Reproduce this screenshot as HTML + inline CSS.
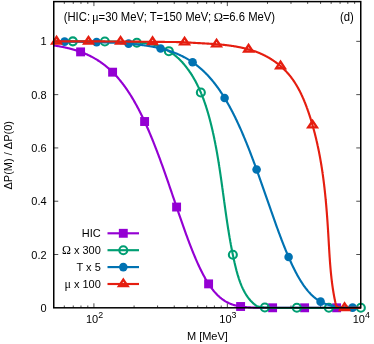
<!DOCTYPE html>
<html><head><meta charset="utf-8"><title>chart</title>
<style>html,body{margin:0;padding:0;background:#fff}svg{display:block;will-change:transform}.t{font-family:"Liberation Sans",sans-serif;font-size:11px;fill:#000}.s{font-family:"Liberation Serif",serif}</style></head>
<body>
<svg width="374" height="344" viewBox="0 0 374 344">
<rect width="374" height="344" fill="#fff"/>
<path d="M64.31,307.80v-2.3M64.31,1.60v2.3M73.25,307.80v-2.3M73.25,1.60v2.3M80.98,307.80v-2.3M80.98,1.60v2.3M87.81,307.80v-2.3M87.81,1.60v2.3M93.91,307.80v-4.5M93.91,1.60v4.5M134.08,307.80v-2.3M134.08,1.60v2.3M157.57,307.80v-2.3M157.57,1.60v2.3M174.24,307.80v-2.3M174.24,1.60v2.3M187.17,307.80v-2.3M187.17,1.60v2.3M197.73,307.80v-2.3M197.73,1.60v2.3M206.66,307.80v-2.3M206.66,1.60v2.3M214.40,307.80v-2.3M214.40,1.60v2.3M221.23,307.80v-2.3M221.23,1.60v2.3M227.33,307.80v-4.5M227.33,1.60v4.5M267.49,307.80v-2.3M267.49,1.60v2.3M290.99,307.80v-2.3M290.99,1.60v2.3M307.66,307.80v-2.3M307.66,1.60v2.3M320.59,307.80v-2.3M320.59,1.60v2.3M331.15,307.80v-2.3M331.15,1.60v2.3M340.08,307.80v-2.3M340.08,1.60v2.3M347.82,307.80v-2.3M347.82,1.60v2.3M354.65,307.80v-2.3M354.65,1.60v2.3M53.75,254.51h4.5M360.75,254.51h-4.5M53.75,201.22h4.5M360.75,201.22h-4.5M53.75,147.93h4.5M360.75,147.93h-4.5M53.75,94.64h4.5M360.75,94.64h-4.5M53.75,41.35h4.5M360.75,41.35h-4.5" stroke="#000" stroke-width="0.7" fill="none"/>
<path d="M53.75,45.47 L54.19,45.53 L54.63,45.60 L55.07,45.67 L55.51,45.73 L55.95,45.80 L56.39,45.87 L56.82,45.94 L57.26,46.01 L57.70,46.09 L58.14,46.16 L58.58,46.24 L59.02,46.31 L59.46,46.39 L59.90,46.47 L60.34,46.55 L60.78,46.63 L61.22,46.71 L61.66,46.79 L62.09,46.88 L62.53,46.96 L62.97,47.05 L63.41,47.14 L63.85,47.23 L64.29,47.32 L64.73,47.41 L65.17,47.51 L65.61,47.60 L66.05,47.70 L66.49,47.80 L66.93,47.90 L67.37,48.00 L67.80,48.10 L68.24,48.21 L68.68,48.32 L69.12,48.42 L69.56,48.53 L70.00,48.64 L70.44,48.76 L70.88,48.87 L71.32,48.99 L71.76,49.11 L72.20,49.23 L72.64,49.35 L73.07,49.47 L73.51,49.60 L73.95,49.72 L74.39,49.85 L74.83,49.98 L75.27,50.12 L75.71,50.25 L76.15,50.39 L76.59,50.53 L77.03,50.67 L77.47,50.81 L77.91,50.96 L78.35,51.10 L78.78,51.25 L79.22,51.40 L79.66,51.56 L80.10,51.71 L80.54,51.87 L80.98,52.03 L81.42,52.20 L81.86,52.36 L82.30,52.53 L82.74,52.70 L83.18,52.87 L83.62,53.05 L84.05,53.23 L84.49,53.41 L84.93,53.59 L85.37,53.78 L85.81,53.97 L86.25,54.16 L86.69,54.35 L87.13,54.55 L87.57,54.75 L88.01,54.95 L88.45,55.16 L88.89,55.36 L89.33,55.58 L89.76,55.79 L90.20,56.01 L90.64,56.23 L91.08,56.45 L91.52,56.68 L91.96,56.91 L92.40,57.14 L92.84,57.38 L93.28,57.62 L93.72,57.86 L94.16,58.11 L94.60,58.36 L95.03,58.62 L95.47,58.87 L95.91,59.13 L96.35,59.40 L96.79,59.67 L97.23,59.94 L97.67,60.22 L98.11,60.50 L98.55,60.78 L98.99,61.07 L99.43,61.36 L99.87,61.65 L100.31,61.95 L100.74,62.26 L101.18,62.56 L101.62,62.88 L102.06,63.19 L102.50,63.51 L102.94,63.84 L103.38,64.17 L103.82,64.50 L104.26,64.84 L104.70,65.18 L105.14,65.53 L105.58,65.88 L106.01,66.24 L106.45,66.60 L106.89,66.96 L107.33,67.33 L107.77,67.71 L108.21,68.09 L108.65,68.48 L109.09,68.87 L109.53,69.26 L109.97,69.66 L110.41,70.07 L110.85,70.48 L111.29,70.90 L111.72,71.32 L112.16,71.75 L112.60,72.18 L113.04,72.62 L113.48,73.06 L113.92,73.51 L114.36,73.96 L114.80,74.42 L115.24,74.89 L115.68,75.36 L116.12,75.84 L116.56,76.32 L116.99,76.81 L117.43,77.31 L117.87,77.81 L118.31,78.32 L118.75,78.83 L119.19,79.36 L119.63,79.88 L120.07,80.41 L120.51,80.95 L120.95,81.50 L121.39,82.05 L121.83,82.61 L122.27,83.18 L122.70,83.75 L123.14,84.33 L123.58,84.91 L124.02,85.50 L124.46,86.10 L124.90,86.71 L125.34,87.32 L125.78,87.94 L126.22,88.57 L126.66,89.20 L127.10,89.84 L127.54,90.49 L127.97,91.15 L128.41,91.81 L128.85,92.48 L129.29,93.15 L129.73,93.84 L130.17,94.53 L130.61,95.23 L131.05,95.93 L131.49,96.65 L131.93,97.37 L132.37,98.10 L132.81,98.83 L133.24,99.58 L133.68,100.33 L134.12,101.09 L134.56,101.85 L135.00,102.63 L135.44,103.41 L135.88,104.20 L136.32,105.00 L136.76,105.80 L137.20,106.62 L137.64,107.44 L138.08,108.27 L138.52,109.10 L138.95,109.95 L139.39,110.80 L139.83,111.66 L140.27,112.53 L140.71,113.41 L141.15,114.29 L141.59,115.18 L142.03,116.08 L142.47,116.99 L142.91,117.90 L143.35,118.83 L143.79,119.76 L144.22,120.70 L144.66,121.64 L145.10,122.60 L145.54,123.56 L145.98,124.53 L146.42,125.51 L146.86,126.50 L147.30,127.49 L147.74,128.49 L148.18,129.50 L148.62,130.52 L149.06,131.54 L149.50,132.57 L149.93,133.61 L150.37,134.66 L150.81,135.71 L151.25,136.77 L151.69,137.84 L152.13,138.92 L152.57,140.00 L153.01,141.09 L153.45,142.19 L153.89,143.29 L154.33,144.40 L154.77,145.52 L155.20,146.65 L155.64,147.78 L156.08,148.91 L156.52,150.06 L156.96,151.21 L157.40,152.36 L157.84,153.53 L158.28,154.70 L158.72,155.87 L159.16,157.05 L159.60,158.24 L160.04,159.43 L160.48,160.63 L160.91,161.83 L161.35,163.04 L161.79,164.25 L162.23,165.47 L162.67,166.69 L163.11,167.92 L163.55,169.15 L163.99,170.39 L164.43,171.63 L164.87,172.88 L165.31,174.13 L165.75,175.38 L166.18,176.64 L166.62,177.90 L167.06,179.16 L167.50,180.43 L167.94,181.70 L168.38,182.97 L168.82,184.24 L169.26,185.52 L169.70,186.80 L170.14,188.08 L170.58,189.37 L171.02,190.65 L171.46,191.94 L171.89,193.23 L172.33,194.52 L172.77,195.81 L173.21,197.10 L173.65,198.39 L174.09,199.68 L174.53,200.97 L174.97,202.26 L175.41,203.55 L175.85,204.84 L176.29,206.13 L176.73,207.42 L177.16,208.71 L177.60,209.99 L178.04,211.27 L178.48,212.56 L178.92,213.84 L179.36,215.11 L179.80,216.39 L180.24,217.66 L180.68,218.93 L181.12,220.19 L181.56,221.45 L182.00,222.71 L182.44,223.96 L182.87,225.21 L183.31,226.46 L183.75,227.70 L184.19,228.93 L184.63,230.16 L185.07,231.38 L185.51,232.60 L185.95,233.82 L186.39,235.02 L186.83,236.22 L187.27,237.42 L187.71,238.60 L188.14,239.78 L188.58,240.96 L189.02,242.12 L189.46,243.28 L189.90,244.43 L190.34,245.57 L190.78,246.70 L191.22,247.83 L191.66,248.95 L192.10,250.05 L192.54,251.15 L192.98,252.24 L193.42,253.32 L193.85,254.39 L194.29,255.45 L194.73,256.50 L195.17,257.54 L195.61,258.57 L196.05,259.60 L196.49,260.60 L196.93,261.60 L197.37,262.59 L197.81,263.57 L198.25,264.54 L198.69,265.49 L199.12,266.43 L199.56,267.37 L200.00,268.29 L200.44,269.20 L200.88,270.09 L201.32,270.98 L201.76,271.85 L202.20,272.71 L202.64,273.56 L203.08,274.40 L203.52,275.23 L203.96,276.04 L204.40,276.84 L204.83,277.63 L205.27,278.41 L205.71,279.17 L206.15,279.92 L206.59,280.66 L207.03,281.39 L207.47,282.10 L207.91,282.80 L208.35,283.49 L208.79,284.17 L209.23,284.83 L209.67,285.48 L210.10,286.12 L210.54,286.75 L210.98,287.36 L211.42,287.97 L211.86,288.56 L212.30,289.13 L212.74,289.70 L213.18,290.25 L213.62,290.80 L214.06,291.33 L214.50,291.85 L214.94,292.35 L215.38,292.85 L215.81,293.33 L216.25,293.81 L216.69,294.27 L217.13,294.72 L217.57,295.16 L218.01,295.59 L218.45,296.00 L218.89,296.41 L219.33,296.81 L219.77,297.19 L220.21,297.57 L220.65,297.94 L221.08,298.29 L221.52,298.64 L221.96,298.97 L222.40,299.30 L222.84,299.62 L223.28,299.93 L223.72,300.23 L224.16,300.52 L224.60,300.80 L225.04,301.07 L225.48,301.34 L225.92,301.59 L226.36,301.84 L226.79,302.08 L227.23,302.31 L227.67,302.54 L228.11,302.76 L228.55,302.97 L228.99,303.17 L229.43,303.37 L229.87,303.55 L230.31,303.74 L230.75,303.91 L231.19,304.08 L231.63,304.25 L232.06,304.41 L232.50,304.56 L232.94,304.70 L233.38,304.85 L233.82,304.98 L234.26,305.11 L234.70,305.24 L235.14,305.36 L235.58,305.47 L236.02,305.58 L236.46,305.69 L236.90,305.79 L237.34,305.89 L237.77,305.98 L238.21,306.07 L238.65,306.16 L239.09,306.24 L239.53,306.32 L239.97,306.40 L240.41,306.47 L240.85,306.54 L241.29,306.60 L241.73,306.67 L242.17,306.73 L242.61,306.78 L243.04,306.84 L243.48,306.89 L243.92,306.94 L244.36,306.99 L244.80,307.03 L245.24,307.07 L245.68,307.11 L246.12,307.15 L246.56,307.19 L247.00,307.22 L247.44,307.26 L247.88,307.29 L248.32,307.32 L248.75,307.35 L249.19,307.37 L249.63,307.40 L250.07,307.42 L250.51,307.44 L250.95,307.47 L251.39,307.49 L251.83,307.51 L252.27,307.52 L252.71,307.54 L253.15,307.56 L253.59,307.57 L254.02,307.59 L254.46,307.60 L254.90,307.61 L255.34,307.62 L255.78,307.64 L256.22,307.65 L256.66,307.66 L257.10,307.67 L257.54,307.67 L257.98,307.68 L258.42,307.69 L258.86,307.70 L259.30,307.70 L259.73,307.71 L260.17,307.72 L260.61,307.72 L261.05,307.73 L261.49,307.73 L261.93,307.74 L262.37,307.74 L262.81,307.75 L263.25,307.75 L263.69,307.75 L264.13,307.76 L264.57,307.76 L265.00,307.76 L265.44,307.77 L265.88,307.77 L266.32,307.77 L266.76,307.77 L267.20,307.77 L267.64,307.78 L268.08,307.78 L268.52,307.78 L268.96,307.78 L269.40,307.78 L269.84,307.78 L270.28,307.79 L270.71,307.79 L271.15,307.79 L271.59,307.79 L272.03,307.79 L272.47,307.79 L272.91,307.79 L273.35,307.79 L273.79,307.79 L274.23,307.79 L274.67,307.79 L275.11,307.79 L275.55,307.79 L275.98,307.79 L276.42,307.80 L276.86,307.80 L277.30,307.80 L277.74,307.80 L278.18,307.80 L278.62,307.80 L279.06,307.80 L279.50,307.80 L279.94,307.80 L280.38,307.80 L280.82,307.80 L281.26,307.80 L281.69,307.80 L282.13,307.80 L282.57,307.80 L283.01,307.80 L283.45,307.80 L283.89,307.80 L284.33,307.80 L284.77,307.80 L285.21,307.80 L285.65,307.80 L286.09,307.80 L286.53,307.80 L286.96,307.80 L287.40,307.80 L287.84,307.80 L288.28,307.80 L288.72,307.80 L289.16,307.80 L289.60,307.80 L290.04,307.80 L290.48,307.80 L290.92,307.80 L291.36,307.80 L291.80,307.80 L292.23,307.80 L292.67,307.80 L293.11,307.80 L293.55,307.80 L293.99,307.80 L294.43,307.80 L294.87,307.80 L295.31,307.80 L295.75,307.80 L296.19,307.80 L296.63,307.80 L297.07,307.80 L297.51,307.80 L297.94,307.80 L298.38,307.80 L298.82,307.80 L299.26,307.80 L299.70,307.80 L300.14,307.80 L300.58,307.80 L301.02,307.80 L301.46,307.80 L301.90,307.80 L302.34,307.80 L302.78,307.80 L303.21,307.80 L303.65,307.80 L304.09,307.80 L304.53,307.80 L304.97,307.80 L305.41,307.80 L305.85,307.80 L306.29,307.80 L306.73,307.80 L307.17,307.80 L307.61,307.80 L308.05,307.80 L308.49,307.80 L308.92,307.80 L309.36,307.80 L309.80,307.80 L310.24,307.80 L310.68,307.80 L311.12,307.80 L311.56,307.80 L312.00,307.80 L312.44,307.80 L312.88,307.80 L313.32,307.80 L313.76,307.80 L314.19,307.80 L314.63,307.80 L315.07,307.80 L315.51,307.80 L315.95,307.80 L316.39,307.80 L316.83,307.80 L317.27,307.80 L317.71,307.80 L318.15,307.80 L318.59,307.80 L319.03,307.80 L319.47,307.80 L319.90,307.80 L320.34,307.80 L320.78,307.80 L321.22,307.80 L321.66,307.80 L322.10,307.80 L322.54,307.80 L322.98,307.80 L323.42,307.80 L323.86,307.80 L324.30,307.80 L324.74,307.80 L325.17,307.80 L325.61,307.80 L326.05,307.80 L326.49,307.80 L326.93,307.80 L327.37,307.80 L327.81,307.80 L328.25,307.80 L328.69,307.80 L329.13,307.80 L329.57,307.80 L330.01,307.80 L330.45,307.80 L330.88,307.80 L331.32,307.80 L331.76,307.80 L332.20,307.80 L332.64,307.80 L333.08,307.80 L333.52,307.80 L333.96,307.80 L334.40,307.80 L334.84,307.80 L335.28,307.80 L335.72,307.80 L336.15,307.80 L336.59,307.80 L337.03,307.80 L337.47,307.80 L337.91,307.80 L338.35,307.80 L338.79,307.80 L339.23,307.80 L339.67,307.80 L340.11,307.80 L340.55,307.80 L340.99,307.80 L341.43,307.80 L341.86,307.80 L342.30,307.80 L342.74,307.80 L343.18,307.80 L343.62,307.80 L344.06,307.80 L344.50,307.80 L344.94,307.80 L345.38,307.80 L345.82,307.80 L346.26,307.80 L346.70,307.80 L347.13,307.80 L347.57,307.80 L348.01,307.80 L348.45,307.80 L348.89,307.80 L349.33,307.80 L349.77,307.80 L350.21,307.80 L350.65,307.80 L351.09,307.80 L351.53,307.80 L351.97,307.80 L352.41,307.80 L352.84,307.80 L353.28,307.80 L353.72,307.80 L354.16,307.80 L354.60,307.80 L355.04,307.80 L355.48,307.80 L355.92,307.80 L356.36,307.80 L356.80,307.80 L357.24,307.80 L357.68,307.80 L358.11,307.80 L358.55,307.80 L358.99,307.80 L359.43,307.80 L359.87,307.80 L360.31,307.80 L360.75,307.80" fill="none" stroke="#9400d3" stroke-width="2.15" stroke-linejoin="round"/>
<rect x="76.15" y="47.44" width="8.9" height="8.9" fill="#9400d3"/>
<rect x="108.15" y="67.73" width="8.9" height="8.9" fill="#9400d3"/>
<rect x="140.15" y="117.06" width="8.9" height="8.9" fill="#9400d3"/>
<rect x="172.15" y="202.60" width="8.9" height="8.9" fill="#9400d3"/>
<rect x="204.15" y="279.43" width="8.9" height="8.9" fill="#9400d3"/>
<rect x="236.15" y="302.05" width="8.9" height="8.9" fill="#9400d3"/>
<rect x="268.15" y="303.34" width="8.9" height="8.9" fill="#9400d3"/>
<rect x="300.15" y="303.35" width="8.9" height="8.9" fill="#9400d3"/>
<rect x="332.15" y="303.35" width="8.9" height="8.9" fill="#9400d3"/>
<path d="M53.75,41.35 L54.37,41.35 L54.98,41.35 L55.60,41.35 L56.21,41.35 L56.83,41.35 L57.44,41.35 L58.06,41.35 L58.67,41.35 L59.29,41.35 L59.90,41.35 L60.52,41.35 L61.13,41.35 L61.75,41.35 L62.36,41.35 L62.98,41.36 L63.59,41.36 L64.21,41.36 L64.82,41.36 L65.44,41.36 L66.05,41.36 L66.67,41.36 L67.29,41.36 L67.90,41.36 L68.52,41.36 L69.13,41.36 L69.75,41.37 L70.36,41.37 L70.98,41.37 L71.59,41.37 L72.21,41.37 L72.82,41.37 L73.44,41.37 L74.05,41.37 L74.67,41.38 L75.28,41.38 L75.90,41.38 L76.51,41.38 L77.13,41.38 L77.74,41.38 L78.36,41.39 L78.97,41.39 L79.59,41.39 L80.20,41.39 L80.82,41.39 L81.44,41.40 L82.05,41.40 L82.67,41.40 L83.28,41.40 L83.90,41.40 L84.51,41.41 L85.13,41.41 L85.74,41.41 L86.36,41.41 L86.97,41.41 L87.59,41.42 L88.20,41.42 L88.82,41.42 L89.43,41.42 L90.05,41.43 L90.66,41.43 L91.28,41.43 L91.89,41.43 L92.51,41.44 L93.12,41.44 L93.74,41.44 L94.36,41.44 L94.97,41.45 L95.59,41.45 L96.20,41.45 L96.82,41.45 L97.43,41.46 L98.05,41.46 L98.66,41.46 L99.28,41.47 L99.89,41.47 L100.00,41.47 L100.51,41.47 L101.12,41.48 L101.74,41.48 L102.35,41.48 L102.97,41.49 L103.58,41.49 L104.20,41.50 L104.81,41.51 L105.43,41.51 L106.04,41.52 L106.66,41.53 L107.28,41.53 L107.89,41.54 L108.51,41.55 L109.12,41.56 L109.74,41.57 L110.35,41.58 L110.97,41.59 L111.58,41.60 L112.20,41.61 L112.81,41.62 L113.43,41.63 L114.04,41.64 L114.66,41.65 L115.27,41.67 L115.89,41.68 L116.50,41.69 L117.12,41.70 L117.73,41.72 L118.35,41.73 L118.96,41.75 L119.58,41.76 L120.00,41.77 L120.19,41.77 L120.81,41.79 L121.43,41.82 L122.04,41.85 L122.66,41.88 L123.27,41.91 L123.89,41.95 L124.50,41.99 L125.12,42.04 L125.73,42.08 L126.35,42.13 L126.96,42.18 L127.58,42.23 L128.19,42.28 L128.81,42.32 L129.42,42.37 L130.04,42.42 L130.65,42.46 L131.27,42.51 L131.88,42.55 L132.50,42.58 L133.11,42.62 L133.73,42.65 L134.35,42.67 L134.96,42.69 L135.58,42.71 L136.19,42.72 L136.81,42.72 L136.93,42.72 L137.42,42.72 L137.57,42.72 L138.04,42.72 L138.20,42.72 L138.65,42.72 L138.84,42.72 L139.27,42.72 L139.48,42.72 L139.88,42.73 L140.11,42.73 L140.50,42.74 L140.75,42.75 L141.11,42.76 L141.38,42.78 L141.73,42.80 L142.01,42.81 L142.34,42.83 L142.64,42.85 L142.96,42.88 L143.27,42.90 L143.57,42.93 L143.90,42.96 L144.19,42.98 L144.53,43.02 L144.80,43.05 L145.15,43.09 L145.42,43.12 L145.78,43.16 L146.03,43.20 L146.40,43.24 L146.65,43.28 L147.02,43.33 L147.27,43.37 L147.64,43.43 L147.88,43.47 L148.26,43.53 L148.50,43.57 L148.87,43.64 L149.11,43.68 L149.49,43.75 L149.73,43.80 L150.10,43.87 L150.34,43.92 L150.71,44.00 L150.96,44.05 L151.32,44.13 L151.57,44.19 L151.92,44.27 L152.19,44.33 L152.53,44.42 L152.80,44.48 L153.13,44.57 L153.42,44.64 L153.73,44.73 L154.03,44.81 L154.33,44.89 L154.65,44.98 L154.93,45.06 L155.26,45.16 L155.52,45.24 L155.88,45.35 L156.11,45.42 L156.49,45.54 L156.70,45.61 L157.11,45.75 L157.29,45.81 L157.72,45.96 L157.87,46.01 L158.34,46.17 L158.46,46.22 L158.95,46.40 L159.04,46.43 L159.57,46.63 L159.61,46.65 L160.18,46.87 L160.19,46.88 L160.76,47.11 L160.80,47.12 L161.33,47.34 L161.42,47.38 L161.90,47.59 L162.03,47.65 L162.46,47.84 L162.65,47.92 L163.02,48.09 L163.26,48.20 L163.58,48.35 L163.88,48.49 L164.14,48.62 L164.49,48.79 L164.69,48.89 L165.11,49.10 L165.24,49.17 L165.72,49.42 L165.79,49.45 L166.33,49.74 L166.34,49.75 L166.87,50.04 L166.95,50.08 L167.41,50.34 L167.57,50.43 L167.94,50.64 L168.18,50.78 L168.47,50.96 L168.80,51.15 L169.00,51.27 L169.41,51.53 L169.53,51.60 L170.03,51.91 L170.05,51.92 L170.56,52.26 L170.64,52.31 L171.08,52.60 L171.26,52.72 L171.59,52.94 L171.87,53.14 L172.10,53.29 L172.49,53.57 L172.60,53.65 L173.10,54.01 L173.10,54.01 L173.60,54.37 L173.72,54.46 L174.09,54.74 L174.34,54.93 L174.58,55.12 L174.95,55.41 L175.06,55.50 L175.54,55.89 L175.57,55.91 L176.02,56.28 L176.18,56.41 L176.49,56.68 L176.80,56.93 L176.96,57.08 L177.41,57.47 L177.43,57.49 L177.89,57.90 L178.03,58.02 L178.35,58.31 L178.64,58.59 L178.80,58.74 L179.25,59.16 L179.26,59.17 L179.69,59.60 L179.87,59.77 L180.13,60.03 L180.49,60.39 L180.57,60.47 L181.00,60.92 L181.10,61.02 L181.43,61.37 L181.72,61.67 L181.86,61.82 L182.28,62.28 L182.33,62.34 L182.69,62.74 L182.95,63.03 L183.10,63.21 L183.51,63.68 L183.56,63.73 L183.92,64.15 L184.18,64.46 L184.32,64.62 L184.72,65.10 L184.79,65.20 L185.11,65.59 L185.41,65.96 L185.50,66.07 L185.89,66.56 L186.02,66.73 L186.27,67.05 L186.64,67.53 L186.65,67.54 L187.03,68.04 L187.26,68.34 L187.40,68.54 L187.77,69.04 L187.87,69.18 L188.13,69.54 L188.49,70.03 L188.49,70.04 L188.85,70.55 L189.10,70.90 L189.21,71.06 L189.56,71.57 L189.72,71.80 L189.91,72.08 L190.25,72.59 L190.33,72.71 L190.60,73.11 L190.93,73.63 L190.95,73.65 L191.27,74.15 L191.56,74.60 L191.60,74.67 L191.93,75.19 L192.18,75.59 L192.26,75.72 L192.58,76.25 L192.79,76.59 L192.90,76.77 L193.22,77.30 L193.41,77.62 L193.53,77.84 L193.84,78.37 L194.02,78.68 L194.15,78.91 L194.46,79.44 L194.64,79.76 L194.76,79.98 L195.06,80.52 L195.25,80.88 L195.36,81.06 L195.65,81.61 L195.87,82.02 L195.94,82.15 L196.23,82.70 L196.48,83.19 L196.51,83.25 L196.79,83.80 L197.07,84.35 L197.10,84.40 L197.35,84.90 L197.63,85.45 L197.71,85.64 L197.90,86.01 L198.17,86.57 L198.33,86.91 L198.43,87.13 L198.70,87.68 L198.94,88.22 L198.96,88.25 L199.22,88.81 L199.47,89.37 L199.56,89.57 L199.72,89.94 L199.98,90.50 L200.17,90.96 L200.22,91.07 L200.47,91.64 L200.71,92.21 L200.79,92.39 L200.96,92.78 L201.19,93.35 L201.41,93.86 L201.43,93.92 L201.67,94.50 L201.90,95.07 L202.02,95.38 L202.13,95.65 L202.36,96.22 L202.58,96.80 L202.64,96.94 L202.80,97.38 L203.03,97.96 L203.25,98.54 L203.25,98.56 L203.46,99.13 L203.68,99.71 L203.87,100.23 L203.89,100.29 L204.10,100.88 L204.31,101.46 L204.48,101.95 L204.52,102.05 L204.72,102.64 L204.92,103.23 L205.10,103.73 L205.13,103.81 L205.32,104.40 L205.52,104.99 L205.71,105.57 L205.72,105.59 L205.91,106.18 L206.10,106.77 L206.29,107.36 L206.33,107.47 L206.48,107.96 L206.67,108.55 L206.85,109.15 L206.94,109.44 L207.04,109.74 L207.22,110.34 L207.40,110.94 L207.56,111.47 L207.58,111.53 L207.75,112.13 L207.93,112.73 L208.10,113.33 L208.17,113.57 L208.27,113.93 L208.45,114.53 L208.61,115.13 L208.78,115.73 L208.79,115.75 L208.95,116.33 L209.11,116.93 L209.28,117.53 L209.40,117.99 L209.44,118.13 L209.60,118.73 L209.76,119.34 L209.92,119.94 L210.02,120.31 L210.08,120.54 L210.23,121.14 L210.39,121.75 L210.54,122.35 L210.63,122.70 L210.70,122.95 L210.85,123.56 L211.00,124.16 L211.15,124.76 L211.25,125.17 L211.30,125.37 L211.44,125.97 L211.59,126.58 L211.74,127.18 L211.86,127.72 L211.88,127.78 L212.02,128.39 L212.16,128.99 L212.30,129.60 L212.44,130.20 L212.48,130.36 L212.58,130.81 L212.72,131.41 L212.86,132.02 L212.99,132.63 L213.09,133.08 L213.13,133.23 L213.26,133.84 L213.39,134.44 L213.53,135.05 L213.66,135.66 L213.71,135.90 L213.79,136.26 L213.92,136.87 L214.04,137.48 L214.17,138.08 L214.30,138.69 L214.33,138.82 L214.42,139.30 L214.55,139.91 L214.67,140.51 L214.79,141.12 L214.92,141.73 L214.94,141.85 L215.04,142.34 L215.16,142.94 L215.28,143.55 L215.40,144.16 L215.51,144.77 L215.56,144.99 L215.63,145.38 L215.75,145.99 L215.86,146.59 L215.98,147.20 L216.09,147.81 L216.17,148.25 L216.20,148.42 L216.32,149.03 L216.43,149.64 L216.54,150.25 L216.65,150.86 L216.76,151.47 L216.79,151.63 L216.87,152.08 L216.97,152.69 L217.08,153.30 L217.19,153.91 L217.29,154.52 L217.40,155.13 L217.40,155.14 L217.50,155.74 L217.61,156.35 L217.71,156.96 L217.82,157.57 L217.92,158.18 L218.02,158.77 L218.02,158.79 L218.12,159.40 L218.22,160.01 L218.32,160.62 L218.42,161.23 L218.52,161.84 L218.62,162.46 L218.63,162.54 L218.72,163.07 L218.81,163.68 L218.91,164.29 L219.01,164.90 L219.10,165.51 L219.20,166.13 L219.25,166.44 L219.29,166.74 L219.39,167.35 L219.48,167.96 L219.57,168.57 L219.67,169.18 L219.76,169.80 L219.85,170.41 L219.86,170.47 L219.94,171.02 L220.04,171.63 L220.13,172.25 L220.22,172.86 L220.31,173.47 L220.40,174.08 L220.48,174.62 L220.49,174.70 L220.58,175.31 L220.67,175.92 L220.76,176.54 L220.84,177.15 L220.93,177.76 L221.02,178.37 L221.09,178.88 L221.11,178.99 L221.19,179.60 L221.28,180.21 L221.37,180.83 L221.46,181.44 L221.54,182.05 L221.63,182.67 L221.71,183.24 L221.71,183.28 L221.80,183.89 L221.88,184.51 L221.97,185.12 L222.06,185.73 L222.14,186.35 L222.23,186.96 L222.31,187.58 L222.32,187.67 L222.39,188.19 L222.48,188.80 L222.56,189.42 L222.65,190.03 L222.73,190.64 L222.82,191.26 L222.90,191.87 L222.94,192.16 L222.98,192.49 L223.07,193.10 L223.15,193.71 L223.23,194.33 L223.32,194.94 L223.40,195.56 L223.49,196.17 L223.55,196.67 L223.57,196.78 L223.65,197.40 L223.74,198.01 L223.82,198.63 L223.90,199.24 L223.99,199.85 L224.07,200.47 L224.16,201.08 L224.17,201.18 L224.24,201.70 L224.32,202.31 L224.41,202.93 L224.49,203.54 L224.58,204.15 L224.66,204.77 L224.74,205.38 L224.78,205.67 L224.83,206.00 L224.91,206.61 L225.00,207.23 L225.08,207.84 L225.17,208.45 L225.26,209.07 L225.34,209.68 L225.40,210.09 L225.43,210.30 L225.51,210.91 L225.60,211.52 L225.69,212.14 L225.77,212.75 L225.86,213.37 L225.95,213.98 L226.01,214.45 L226.04,214.59 L226.12,215.21 L226.21,215.82 L226.30,216.44 L226.39,217.05 L226.48,217.66 L226.57,218.28 L226.63,218.70 L226.66,218.89 L226.75,219.51 L226.84,220.12 L226.93,220.73 L227.02,221.35 L227.11,221.96 L227.20,222.58 L227.24,222.84 L227.30,223.19 L227.39,223.80 L227.48,224.42 L227.58,225.03 L227.67,225.64 L227.77,226.26 L227.86,226.86 L227.86,226.87 L227.96,227.48 L228.05,228.10 L228.15,228.71 L228.25,229.32 L228.34,229.94 L228.44,230.55 L228.48,230.76 L228.54,231.16 L228.64,231.78 L228.74,232.39 L228.84,233.00 L228.94,233.62 L229.04,234.23 L229.09,234.52 L229.14,234.84 L229.25,235.45 L229.35,236.07 L229.45,236.68 L229.56,237.29 L229.66,237.91 L229.71,238.15 L229.77,238.52 L229.88,239.13 L229.98,239.74 L230.09,240.36 L230.20,240.97 L230.31,241.58 L230.32,241.66 L230.42,242.19 L230.53,242.80 L230.64,243.42 L230.75,244.03 L230.86,244.64 L230.94,245.03 L230.98,245.25 L231.09,245.86 L231.21,246.47 L231.32,247.09 L231.44,247.70 L231.55,248.29 L231.56,248.31 L231.67,248.92 L231.79,249.53 L231.91,250.14 L232.03,250.75 L232.15,251.36 L232.17,251.43 L232.28,251.97 L232.40,252.59 L232.52,253.20 L232.65,253.81 L232.77,254.42 L232.78,254.46 L232.90,255.03 L233.03,255.64 L233.16,256.25 L233.29,256.86 L233.40,257.38 L233.42,257.47 L233.55,258.08 L233.68,258.69 L233.81,259.30 L233.95,259.91 L234.01,260.20 L234.08,260.52 L234.22,261.12 L234.36,261.73 L234.49,262.34 L234.63,262.93 L234.63,262.95 L234.77,263.56 L234.91,264.17 L235.06,264.78 L235.20,265.39 L235.24,265.56 L235.35,265.99 L235.49,266.60 L235.64,267.21 L235.79,267.82 L235.86,268.09 L235.94,268.42 L236.09,269.03 L236.25,269.63 L236.41,270.24 L236.47,270.49 L236.57,270.84 L236.73,271.44 L236.89,272.04 L237.06,272.65 L237.09,272.76 L237.22,273.25 L237.39,273.85 L237.57,274.44 L237.70,274.91 L237.74,275.04 L237.92,275.64 L238.10,276.23 L238.29,276.82 L238.32,276.93 L238.47,277.42 L238.66,278.01 L238.86,278.60 L238.93,278.83 L239.05,279.19 L239.25,279.77 L239.46,280.36 L239.55,280.62 L239.66,280.94 L239.87,281.52 L240.09,282.10 L240.16,282.31 L240.30,282.68 L240.52,283.26 L240.75,283.83 L240.78,283.91 L240.98,284.41 L241.21,284.98 L241.40,285.42 L241.45,285.55 L241.69,286.11 L241.94,286.68 L242.01,286.85 L242.19,287.24 L242.44,287.80 L242.63,288.20 L242.70,288.36 L242.96,288.91 L243.23,289.47 L243.24,289.49 L243.51,290.02 L243.78,290.57 L243.86,290.71 L244.07,291.11 L244.36,291.65 L244.47,291.86 L244.65,292.19 L244.95,292.73 L245.09,292.96 L245.26,293.26 L245.57,293.79 L245.70,294.00 L245.89,294.31 L246.21,294.83 L246.32,294.99 L246.55,295.35 L246.88,295.86 L246.93,295.93 L247.23,296.37 L247.55,296.82 L247.58,296.87 L247.94,297.37 L248.16,297.67 L248.30,297.86 L248.68,298.35 L248.78,298.48 L249.06,298.83 L249.39,299.25 L249.44,299.31 L249.84,299.78 L250.01,299.98 L250.24,300.25 L250.62,300.67 L250.65,300.71 L251.07,301.16 L251.24,301.34 L251.50,301.61 L251.85,301.97 L251.94,302.05 L252.38,302.49 L252.47,302.57 L252.84,302.92 L253.08,303.14 L253.30,303.34 L253.70,303.69 L253.77,303.75 L254.25,304.16 L254.32,304.21 L254.74,304.56 L254.93,304.71 L255.24,304.96 L255.55,305.19 L255.75,305.34 L256.16,305.66 L256.27,305.72 L256.78,305.95 L257.39,306.19 L258.01,306.41 L258.62,306.59 L259.24,306.74 L259.85,306.88 L260.47,306.99 L260.50,307.00 L261.08,307.10 L261.70,307.20 L262.31,307.28 L262.93,307.36 L263.54,307.43 L264.16,307.49 L264.77,307.54 L265.00,307.55 L265.39,307.57 L266.00,307.61 L266.62,307.64 L267.23,307.67 L267.85,307.70 L268.47,307.72 L269.08,307.75 L269.70,307.77 L270.31,307.78 L270.93,307.79 L271.54,307.80 L272.00,307.80 L272.16,307.80 L272.77,307.80 L273.39,307.80 L274.00,307.80 L274.62,307.80 L275.23,307.80 L275.85,307.80 L276.46,307.80 L277.08,307.80 L277.69,307.80 L278.31,307.80 L278.92,307.80 L279.54,307.80 L280.15,307.80 L280.77,307.80 L281.39,307.80 L282.00,307.80 L282.62,307.80 L283.23,307.80 L283.85,307.80 L284.46,307.80 L285.08,307.80 L285.69,307.80 L286.31,307.80 L286.92,307.80 L287.54,307.80 L288.15,307.80 L288.77,307.80 L289.38,307.80 L290.00,307.80 L290.61,307.80 L291.23,307.80 L291.84,307.80 L292.46,307.80 L293.07,307.80 L293.69,307.80 L294.31,307.80 L294.92,307.80 L295.54,307.80 L296.15,307.80 L296.77,307.80 L297.38,307.80 L298.00,307.80 L298.61,307.80 L299.23,307.80 L299.84,307.80 L300.46,307.80 L301.07,307.80 L301.69,307.80 L302.30,307.80 L302.92,307.80 L303.53,307.80 L304.15,307.80 L304.76,307.80 L305.38,307.80 L305.99,307.80 L306.61,307.80 L307.22,307.80 L307.84,307.80 L308.46,307.80 L309.07,307.80 L309.69,307.80 L310.30,307.80 L310.92,307.80 L311.53,307.80 L312.15,307.80 L312.76,307.80 L313.38,307.80 L313.99,307.80 L314.61,307.80 L315.22,307.80 L315.84,307.80 L316.45,307.80 L317.07,307.80 L317.68,307.80 L318.30,307.80 L318.91,307.80 L319.53,307.80 L320.14,307.80 L320.76,307.80 L321.38,307.80 L321.99,307.80 L322.61,307.80 L323.22,307.80 L323.84,307.80 L324.45,307.80 L325.07,307.80 L325.68,307.80 L326.30,307.80 L326.91,307.80 L327.53,307.80 L328.14,307.80 L328.76,307.80 L329.37,307.80 L329.99,307.80 L330.60,307.80 L331.22,307.80 L331.83,307.80 L332.45,307.80 L333.06,307.80 L333.68,307.80 L334.30,307.80 L334.91,307.80 L335.53,307.80 L336.14,307.80 L336.76,307.80 L337.37,307.80 L337.99,307.80 L338.60,307.80 L339.22,307.80 L339.83,307.80 L340.45,307.80 L341.06,307.80 L341.68,307.80 L342.29,307.80 L342.91,307.80 L343.52,307.80 L344.14,307.80 L344.75,307.80 L345.37,307.80 L345.98,307.80 L346.60,307.80 L347.21,307.80 L347.83,307.80 L348.45,307.80 L349.06,307.80 L349.68,307.80 L350.29,307.80 L350.91,307.80 L351.52,307.80 L352.14,307.80 L352.75,307.80 L353.37,307.80 L353.98,307.80 L354.60,307.80 L355.21,307.80 L355.83,307.80 L356.44,307.80 L357.06,307.80 L357.67,307.80 L358.29,307.80 L358.90,307.80 L359.52,307.80 L360.13,307.80 L360.75,307.80" fill="none" stroke="#009e73" stroke-width="2.15" stroke-linejoin="round"/>
<circle cx="72.85" cy="41.37" r="4.0" fill="none" stroke="#009e73" stroke-width="2.1"/>
<circle cx="104.85" cy="41.51" r="4.0" fill="none" stroke="#009e73" stroke-width="2.1"/>
<circle cx="136.85" cy="42.72" r="4.0" fill="none" stroke="#009e73" stroke-width="2.1"/>
<circle cx="168.85" cy="51.18" r="4.0" fill="none" stroke="#009e73" stroke-width="2.1"/>
<circle cx="200.85" cy="92.53" r="4.0" fill="none" stroke="#009e73" stroke-width="2.1"/>
<circle cx="232.85" cy="254.78" r="4.0" fill="none" stroke="#009e73" stroke-width="2.1"/>
<circle cx="264.85" cy="307.54" r="4.0" fill="none" stroke="#009e73" stroke-width="2.1"/>
<circle cx="296.85" cy="307.80" r="4.0" fill="none" stroke="#009e73" stroke-width="2.1"/>
<circle cx="328.85" cy="307.80" r="4.0" fill="none" stroke="#009e73" stroke-width="2.1"/>
<circle cx="360.85" cy="307.80" r="4.0" fill="none" stroke="#009e73" stroke-width="2.1"/>
<path d="M53.75,41.53 L54.19,41.53 L54.63,41.53 L55.07,41.54 L55.51,41.54 L55.95,41.54 L56.39,41.54 L56.82,41.55 L57.26,41.55 L57.70,41.55 L58.14,41.56 L58.58,41.56 L59.02,41.56 L59.46,41.56 L59.90,41.57 L60.34,41.57 L60.78,41.57 L61.22,41.58 L61.66,41.58 L62.09,41.58 L62.53,41.59 L62.97,41.59 L63.41,41.59 L63.85,41.60 L64.29,41.60 L64.73,41.61 L65.17,41.61 L65.61,41.61 L66.05,41.62 L66.49,41.62 L66.93,41.62 L67.37,41.63 L67.80,41.63 L68.24,41.64 L68.68,41.64 L69.12,41.65 L69.56,41.65 L70.00,41.65 L70.44,41.66 L70.88,41.66 L71.32,41.67 L71.76,41.67 L72.20,41.68 L72.64,41.68 L73.07,41.69 L73.51,41.69 L73.95,41.70 L74.39,41.70 L74.83,41.71 L75.27,41.71 L75.71,41.72 L76.15,41.73 L76.59,41.73 L77.03,41.74 L77.47,41.74 L77.91,41.75 L78.35,41.75 L78.78,41.76 L79.22,41.77 L79.66,41.77 L80.10,41.78 L80.54,41.79 L80.98,41.79 L81.42,41.80 L81.86,41.81 L82.30,41.81 L82.74,41.82 L83.18,41.83 L83.62,41.83 L84.05,41.84 L84.49,41.85 L84.93,41.86 L85.37,41.86 L85.81,41.87 L86.25,41.88 L86.69,41.89 L87.13,41.90 L87.57,41.90 L88.01,41.91 L88.45,41.92 L88.89,41.93 L89.33,41.94 L89.76,41.95 L90.20,41.96 L90.64,41.97 L91.08,41.98 L91.52,41.99 L91.96,41.99 L92.40,42.00 L92.84,42.01 L93.28,42.02 L93.72,42.04 L94.16,42.05 L94.60,42.06 L95.03,42.07 L95.47,42.08 L95.91,42.09 L96.35,42.10 L96.79,42.11 L97.23,42.12 L97.67,42.14 L98.11,42.15 L98.55,42.16 L98.99,42.17 L99.43,42.19 L99.87,42.20 L100.31,42.21 L100.74,42.22 L101.18,42.24 L101.62,42.25 L102.06,42.27 L102.50,42.28 L102.94,42.29 L103.38,42.31 L103.82,42.32 L104.26,42.34 L104.70,42.35 L105.14,42.37 L105.58,42.38 L106.01,42.40 L106.45,42.42 L106.89,42.43 L107.33,42.45 L107.77,42.47 L108.21,42.48 L108.65,42.50 L109.09,42.52 L109.53,42.54 L109.97,42.56 L110.41,42.57 L110.85,42.59 L111.29,42.61 L111.72,42.63 L112.16,42.65 L112.60,42.67 L113.04,42.69 L113.48,42.71 L113.92,42.73 L114.36,42.76 L114.80,42.78 L115.24,42.80 L115.68,42.82 L116.12,42.84 L116.56,42.87 L116.99,42.89 L117.43,42.91 L117.87,42.94 L118.31,42.96 L118.75,42.99 L119.19,43.01 L119.63,43.04 L120.07,43.07 L120.51,43.09 L120.95,43.12 L121.39,43.15 L121.83,43.18 L122.27,43.20 L122.70,43.23 L123.14,43.26 L123.58,43.29 L124.02,43.32 L124.46,43.35 L124.90,43.38 L125.34,43.41 L125.78,43.45 L126.22,43.48 L126.66,43.51 L127.10,43.55 L127.54,43.58 L127.97,43.61 L128.41,43.65 L128.85,43.69 L129.29,43.72 L129.73,43.76 L130.17,43.80 L130.61,43.83 L131.05,43.87 L131.49,43.91 L131.93,43.95 L132.37,43.99 L132.81,44.03 L133.24,44.07 L133.68,44.12 L134.12,44.16 L134.56,44.20 L135.00,44.25 L135.44,44.29 L135.88,44.34 L136.32,44.38 L136.76,44.43 L137.20,44.48 L137.64,44.53 L138.08,44.58 L138.52,44.63 L138.95,44.68 L139.39,44.73 L139.83,44.78 L140.27,44.84 L140.71,44.89 L141.15,44.94 L141.59,45.00 L142.03,45.06 L142.47,45.11 L142.91,45.17 L143.35,45.23 L143.79,45.29 L144.22,45.35 L144.66,45.41 L145.10,45.48 L145.54,45.54 L145.98,45.61 L146.42,45.67 L146.86,45.74 L147.30,45.81 L147.74,45.88 L148.18,45.95 L148.62,46.02 L149.06,46.09 L149.50,46.16 L149.93,46.24 L150.37,46.31 L150.81,46.39 L151.25,46.47 L151.69,46.54 L152.13,46.62 L152.57,46.71 L153.01,46.79 L153.45,46.87 L153.89,46.96 L154.33,47.04 L154.77,47.13 L155.20,47.22 L155.64,47.31 L156.08,47.40 L156.52,47.50 L156.96,47.59 L157.40,47.69 L157.84,47.78 L158.28,47.88 L158.72,47.98 L159.16,48.08 L159.60,48.19 L160.04,48.29 L160.48,48.40 L160.91,48.51 L161.35,48.62 L161.79,48.73 L162.23,48.84 L162.67,48.95 L163.11,49.07 L163.55,49.19 L163.99,49.31 L164.43,49.43 L164.87,49.55 L165.31,49.68 L165.75,49.80 L166.18,49.93 L166.62,50.06 L167.06,50.20 L167.50,50.33 L167.94,50.47 L168.38,50.61 L168.82,50.75 L169.26,50.89 L169.70,51.03 L170.14,51.18 L170.58,51.33 L171.02,51.48 L171.46,51.63 L171.89,51.79 L172.33,51.95 L172.77,52.11 L173.21,52.27 L173.65,52.43 L174.09,52.60 L174.53,52.77 L174.97,52.94 L175.41,53.12 L175.85,53.29 L176.29,53.47 L176.73,53.66 L177.16,53.84 L177.60,54.03 L178.04,54.22 L178.48,54.41 L178.92,54.61 L179.36,54.80 L179.80,55.00 L180.24,55.21 L180.68,55.42 L181.12,55.62 L181.56,55.84 L182.00,56.05 L182.44,56.27 L182.87,56.49 L183.31,56.72 L183.75,56.95 L184.19,57.18 L184.63,57.41 L185.07,57.65 L185.51,57.89 L185.95,58.13 L186.39,58.38 L186.83,58.63 L187.27,58.89 L187.71,59.14 L188.14,59.41 L188.58,59.67 L189.02,59.94 L189.46,60.21 L189.90,60.49 L190.34,60.77 L190.78,61.05 L191.22,61.34 L191.66,61.63 L192.10,61.92 L192.54,62.22 L192.98,62.53 L193.42,62.83 L193.85,63.15 L194.29,63.46 L194.73,63.78 L195.17,64.10 L195.61,64.43 L196.05,64.77 L196.49,65.10 L196.93,65.44 L197.37,65.79 L197.81,66.14 L198.25,66.49 L198.69,66.85 L199.12,67.22 L199.56,67.59 L200.00,67.96 L200.44,68.34 L200.88,68.72 L201.32,69.11 L201.76,69.50 L202.20,69.90 L202.64,70.30 L203.08,70.71 L203.52,71.13 L203.96,71.54 L204.40,71.97 L204.83,72.40 L205.27,72.83 L205.71,73.27 L206.15,73.72 L206.59,74.17 L207.03,74.62 L207.47,75.09 L207.91,75.55 L208.35,76.03 L208.79,76.51 L209.23,76.99 L209.67,77.48 L210.10,77.98 L210.54,78.48 L210.98,78.99 L211.42,79.50 L211.86,80.02 L212.30,80.55 L212.74,81.08 L213.18,81.62 L213.62,82.17 L214.06,82.72 L214.50,83.28 L214.94,83.84 L215.38,84.41 L215.81,84.99 L216.25,85.57 L216.69,86.16 L217.13,86.76 L217.57,87.36 L218.01,87.97 L218.45,88.59 L218.89,89.21 L219.33,89.84 L219.77,90.48 L220.21,91.13 L220.65,91.78 L221.08,92.43 L221.52,93.10 L221.96,93.77 L222.40,94.45 L222.84,95.14 L223.28,95.83 L223.72,96.53 L224.16,97.24 L224.60,97.96 L225.04,98.68 L225.48,99.41 L225.92,100.15 L226.36,100.89 L226.79,101.64 L227.23,102.40 L227.67,103.17 L228.11,103.94 L228.55,104.72 L228.99,105.51 L229.43,106.31 L229.87,107.11 L230.31,107.93 L230.75,108.74 L231.19,109.57 L231.63,110.41 L232.06,111.25 L232.50,112.10 L232.94,112.95 L233.38,113.82 L233.82,114.69 L234.26,115.57 L234.70,116.46 L235.14,117.35 L235.58,118.26 L236.02,119.17 L236.46,120.08 L236.90,121.01 L237.34,121.94 L237.77,122.88 L238.21,123.83 L238.65,124.78 L239.09,125.75 L239.53,126.72 L239.97,127.69 L240.41,128.68 L240.85,129.67 L241.29,130.67 L241.73,131.67 L242.17,132.69 L242.61,133.71 L243.04,134.74 L243.48,135.77 L243.92,136.81 L244.36,137.86 L244.80,138.92 L245.24,139.98 L245.68,141.05 L246.12,142.13 L246.56,143.21 L247.00,144.30 L247.44,145.39 L247.88,146.49 L248.32,147.60 L248.75,148.72 L249.19,149.84 L249.63,150.97 L250.07,152.10 L250.51,153.24 L250.95,154.38 L251.39,155.53 L251.83,156.69 L252.27,157.85 L252.71,159.02 L253.15,160.19 L253.59,161.37 L254.02,162.55 L254.46,163.73 L254.90,164.93 L255.34,166.12 L255.78,167.32 L256.22,168.53 L256.66,169.74 L257.10,170.95 L257.54,172.17 L257.98,173.39 L258.42,174.62 L258.86,175.85 L259.30,177.08 L259.73,178.31 L260.17,179.55 L260.61,180.79 L261.05,182.04 L261.49,183.28 L261.93,184.53 L262.37,185.78 L262.81,187.04 L263.25,188.29 L263.69,189.55 L264.13,190.80 L264.57,192.06 L265.00,193.32 L265.44,194.59 L265.88,195.85 L266.32,197.11 L266.76,198.37 L267.20,199.64 L267.64,200.90 L268.08,202.16 L268.52,203.42 L268.96,204.69 L269.40,205.95 L269.84,207.21 L270.28,208.46 L270.71,209.72 L271.15,210.98 L271.59,212.23 L272.03,213.48 L272.47,214.73 L272.91,215.98 L273.35,217.22 L273.79,218.46 L274.23,219.70 L274.67,220.93 L275.11,222.16 L275.55,223.39 L275.98,224.61 L276.42,225.83 L276.86,227.04 L277.30,228.25 L277.74,229.45 L278.18,230.65 L278.62,231.84 L279.06,233.03 L279.50,234.21 L279.94,235.39 L280.38,236.56 L280.82,237.72 L281.26,238.88 L281.69,240.03 L282.13,241.17 L282.57,242.30 L283.01,243.43 L283.45,244.55 L283.89,245.67 L284.33,246.77 L284.77,247.87 L285.21,248.96 L285.65,250.04 L286.09,251.11 L286.53,252.17 L286.96,253.22 L287.40,254.27 L287.84,255.30 L288.28,256.33 L288.72,257.34 L289.16,258.35 L289.60,259.35 L290.04,260.33 L290.48,261.31 L290.92,262.27 L291.36,263.23 L291.80,264.17 L292.23,265.11 L292.67,266.03 L293.11,266.94 L293.55,267.84 L293.99,268.74 L294.43,269.61 L294.87,270.48 L295.31,271.34 L295.75,272.18 L296.19,273.02 L296.63,273.84 L297.07,274.65 L297.51,275.45 L297.94,276.24 L298.38,277.01 L298.82,277.78 L299.26,278.53 L299.70,279.27 L300.14,280.00 L300.58,280.71 L301.02,281.42 L301.46,282.11 L301.90,282.79 L302.34,283.46 L302.78,284.12 L303.21,284.77 L303.65,285.40 L304.09,286.02 L304.53,286.63 L304.97,287.23 L305.41,287.82 L305.85,288.40 L306.29,288.96 L306.73,289.51 L307.17,290.05 L307.61,290.59 L308.05,291.10 L308.49,291.61 L308.92,292.11 L309.36,292.59 L309.80,293.07 L310.24,293.53 L310.68,293.99 L311.12,294.43 L311.56,294.86 L312.00,295.29 L312.44,295.70 L312.88,296.10 L313.32,296.49 L313.76,296.87 L314.19,297.25 L314.63,297.61 L315.07,297.96 L315.51,298.30 L315.95,298.64 L316.39,298.96 L316.83,299.28 L317.27,299.59 L317.71,299.89 L318.15,300.18 L318.59,300.46 L319.03,300.73 L319.47,301.00 L319.90,301.26 L320.34,301.51 L320.78,301.75 L321.22,301.99 L321.66,302.21 L322.10,302.43 L322.54,302.65 L322.98,302.85 L323.42,303.05 L323.86,303.25 L324.30,303.43 L324.74,303.61 L325.17,303.79 L325.61,303.96 L326.05,304.12 L326.49,304.28 L326.93,304.43 L327.37,304.57 L327.81,304.71 L328.25,304.85 L328.69,304.98 L329.13,305.10 L329.57,305.23 L330.01,305.34 L330.45,305.45 L330.88,305.56 L331.32,305.66 L331.76,305.76 L332.20,305.86 L332.64,305.95 L333.08,306.04 L333.52,306.12 L333.96,306.20 L334.40,306.28 L334.84,306.35 L335.28,306.43 L335.72,306.49 L336.15,306.56 L336.59,306.62 L337.03,306.68 L337.47,306.74 L337.91,306.79 L338.35,306.84 L338.79,306.89 L339.23,306.94 L339.67,306.98 L340.11,307.03 L340.55,307.07 L340.99,307.11 L341.43,307.15 L341.86,307.18 L342.30,307.21 L342.74,307.25 L343.18,307.28 L343.62,307.31 L344.06,307.33 L344.50,307.36 L344.94,307.38 L345.38,307.41 L345.82,307.43 L346.26,307.45 L346.70,307.47 L347.13,307.49 L347.57,307.51 L348.01,307.53 L348.45,307.54 L348.89,307.56 L349.33,307.57 L349.77,307.59 L350.21,307.60 L350.65,307.61 L351.09,307.62 L351.53,307.63 L351.97,307.64 L352.41,307.65 L352.84,307.66 L353.28,307.67 L353.72,307.68 L354.16,307.69 L354.60,307.69 L355.04,307.70 L355.48,307.71 L355.92,307.71 L356.36,307.72 L356.80,307.72 L357.24,307.73 L357.68,307.73 L358.11,307.74 L358.55,307.74 L358.99,307.75 L359.43,307.75 L359.87,307.75 L360.31,307.76 L360.75,307.76" fill="none" stroke="#0072b2" stroke-width="2.15" stroke-linejoin="round"/>
<circle cx="64.60" cy="41.60" r="4.3" fill="#0072b2"/>
<circle cx="96.60" cy="42.11" r="4.3" fill="#0072b2"/>
<circle cx="128.60" cy="43.66" r="4.3" fill="#0072b2"/>
<circle cx="160.60" cy="48.43" r="4.3" fill="#0072b2"/>
<circle cx="192.60" cy="62.27" r="4.3" fill="#0072b2"/>
<circle cx="224.60" cy="97.96" r="4.3" fill="#0072b2"/>
<circle cx="256.60" cy="169.57" r="4.3" fill="#0072b2"/>
<circle cx="288.60" cy="257.06" r="4.3" fill="#0072b2"/>
<circle cx="320.60" cy="301.65" r="4.3" fill="#0072b2"/>
<circle cx="352.60" cy="307.66" r="4.3" fill="#0072b2"/>
<path d="M53.75,41.35 L54.37,41.35 L54.98,41.35 L55.60,41.35 L56.21,41.35 L56.83,41.35 L57.44,41.35 L58.06,41.35 L58.67,41.35 L59.29,41.35 L59.90,41.35 L60.52,41.35 L61.13,41.35 L61.75,41.35 L62.36,41.35 L62.98,41.35 L63.59,41.35 L64.21,41.35 L64.82,41.35 L65.44,41.36 L66.05,41.36 L66.67,41.36 L67.29,41.36 L67.90,41.36 L68.52,41.36 L69.13,41.36 L69.75,41.36 L70.36,41.36 L70.98,41.36 L71.59,41.36 L72.21,41.36 L72.82,41.36 L73.44,41.37 L74.05,41.37 L74.67,41.37 L75.28,41.37 L75.90,41.37 L76.51,41.37 L77.13,41.37 L77.74,41.37 L78.36,41.37 L78.97,41.37 L79.59,41.38 L80.20,41.38 L80.82,41.38 L81.44,41.38 L82.05,41.38 L82.67,41.38 L83.28,41.38 L83.90,41.38 L84.51,41.39 L85.13,41.39 L85.74,41.39 L86.36,41.39 L86.97,41.39 L87.59,41.39 L88.20,41.39 L88.82,41.40 L89.43,41.40 L90.05,41.40 L90.66,41.40 L91.28,41.40 L91.89,41.40 L92.51,41.41 L93.12,41.41 L93.74,41.41 L94.36,41.41 L94.97,41.41 L95.59,41.41 L96.20,41.42 L96.82,41.42 L97.43,41.42 L98.05,41.42 L98.66,41.42 L99.28,41.43 L99.89,41.43 L100.51,41.43 L101.12,41.43 L101.74,41.43 L102.35,41.44 L102.97,41.44 L103.58,41.44 L104.20,41.44 L104.81,41.44 L105.43,41.45 L106.04,41.45 L106.66,41.45 L107.28,41.45 L107.89,41.45 L108.51,41.46 L109.12,41.46 L109.74,41.46 L110.35,41.46 L110.97,41.47 L111.58,41.47 L112.20,41.47 L112.81,41.47 L113.43,41.47 L114.04,41.48 L114.66,41.48 L115.27,41.48 L115.89,41.48 L116.50,41.49 L117.12,41.49 L117.73,41.49 L118.35,41.49 L118.96,41.50 L119.58,41.50 L120.00,41.50 L120.19,41.50 L120.81,41.50 L121.43,41.51 L122.04,41.51 L122.66,41.51 L123.27,41.52 L123.89,41.52 L124.50,41.53 L125.12,41.53 L125.73,41.54 L126.35,41.54 L126.96,41.55 L127.58,41.55 L128.19,41.56 L128.81,41.56 L129.42,41.57 L130.04,41.57 L130.65,41.58 L131.27,41.59 L131.88,41.59 L132.50,41.60 L133.11,41.61 L133.73,41.62 L134.35,41.62 L134.96,41.63 L135.58,41.64 L136.19,41.65 L136.81,41.65 L137.42,41.66 L138.04,41.67 L138.65,41.68 L139.27,41.68 L139.88,41.69 L140.50,41.70 L141.11,41.71 L141.73,41.72 L142.34,41.72 L142.96,41.73 L143.57,41.74 L144.19,41.75 L144.80,41.76 L145.42,41.76 L146.03,41.77 L146.65,41.78 L147.27,41.79 L147.88,41.79 L148.50,41.80 L149.11,41.81 L149.73,41.82 L150.34,41.82 L150.96,41.83 L151.57,41.84 L152.19,41.85 L152.60,41.85 L152.80,41.85 L153.42,41.86 L154.03,41.86 L154.65,41.87 L155.26,41.88 L155.88,41.88 L156.49,41.89 L157.11,41.89 L157.72,41.90 L158.34,41.90 L158.95,41.91 L159.57,41.91 L160.18,41.91 L160.80,41.92 L161.42,41.92 L162.03,41.93 L162.65,41.93 L163.26,41.93 L163.88,41.94 L164.49,41.94 L165.11,41.95 L165.72,41.95 L166.34,41.95 L166.95,41.96 L167.57,41.96 L168.18,41.97 L168.80,41.97 L169.41,41.98 L170.03,41.98 L170.64,41.99 L171.26,41.99 L171.87,42.00 L172.49,42.01 L173.10,42.01 L173.72,42.02 L174.34,42.03 L174.95,42.03 L175.57,42.04 L176.18,42.05 L176.80,42.06 L177.41,42.07 L178.03,42.08 L178.64,42.09 L179.26,42.10 L179.87,42.11 L180.49,42.12 L181.10,42.13 L181.72,42.15 L182.33,42.16 L182.95,42.18 L183.56,42.19 L184.18,42.21 L184.34,42.21 L184.79,42.24 L185.01,42.26 L185.41,42.29 L185.68,42.31 L186.02,42.34 L186.35,42.36 L186.64,42.38 L187.03,42.41 L187.26,42.43 L187.70,42.46 L187.87,42.47 L188.38,42.50 L188.49,42.51 L189.06,42.55 L189.10,42.55 L189.72,42.59 L189.74,42.59 L190.33,42.63 L190.42,42.64 L190.95,42.67 L191.10,42.68 L191.56,42.71 L191.79,42.72 L192.18,42.75 L192.47,42.76 L192.79,42.78 L193.16,42.80 L193.41,42.82 L193.85,42.84 L194.02,42.85 L194.54,42.88 L194.64,42.89 L195.23,42.92 L195.25,42.92 L195.87,42.96 L195.93,42.96 L196.48,42.99 L196.62,43.00 L197.10,43.03 L197.32,43.04 L197.71,43.06 L198.01,43.08 L198.33,43.09 L198.71,43.11 L198.94,43.13 L199.41,43.15 L199.56,43.16 L200.11,43.19 L200.17,43.19 L200.79,43.23 L200.81,43.23 L201.41,43.26 L201.52,43.27 L202.02,43.30 L202.22,43.31 L202.64,43.33 L202.92,43.34 L203.25,43.36 L203.63,43.38 L203.87,43.40 L204.33,43.42 L204.48,43.43 L205.04,43.46 L205.10,43.47 L205.71,43.50 L205.75,43.50 L206.33,43.54 L206.46,43.55 L206.94,43.57 L207.17,43.59 L207.56,43.61 L207.88,43.63 L208.17,43.65 L208.59,43.67 L208.79,43.68 L209.30,43.72 L209.40,43.72 L210.01,43.76 L210.02,43.76 L210.63,43.80 L210.72,43.81 L211.25,43.84 L211.43,43.85 L211.86,43.88 L212.14,43.90 L212.48,43.92 L212.86,43.95 L213.09,43.97 L213.57,44.00 L213.71,44.01 L214.28,44.05 L214.33,44.06 L214.94,44.10 L215.00,44.11 L215.56,44.15 L215.71,44.16 L216.17,44.20 L216.43,44.22 L216.79,44.24 L217.14,44.27 L217.40,44.29 L217.86,44.33 L218.02,44.35 L218.57,44.39 L218.63,44.40 L219.25,44.45 L219.29,44.45 L219.86,44.51 L220.00,44.52 L220.48,44.56 L220.71,44.58 L221.09,44.62 L221.43,44.65 L221.71,44.68 L222.14,44.72 L222.32,44.74 L222.86,44.79 L222.94,44.80 L223.55,44.86 L223.57,44.87 L224.17,44.93 L224.29,44.94 L224.78,45.00 L225.00,45.02 L225.40,45.07 L225.71,45.10 L226.01,45.14 L226.42,45.18 L226.63,45.21 L227.14,45.27 L227.24,45.28 L227.85,45.36 L227.86,45.36 L228.48,45.44 L228.56,45.45 L229.09,45.51 L229.27,45.54 L229.71,45.60 L229.98,45.63 L230.32,45.68 L230.69,45.73 L230.94,45.77 L231.40,45.83 L231.55,45.85 L232.11,45.94 L232.17,45.94 L232.78,46.04 L232.82,46.04 L233.40,46.13 L233.52,46.15 L234.01,46.23 L234.23,46.26 L234.63,46.33 L234.93,46.38 L235.24,46.43 L235.64,46.50 L235.86,46.54 L236.34,46.62 L236.47,46.64 L237.04,46.74 L237.09,46.75 L237.70,46.86 L237.75,46.87 L238.32,46.98 L238.45,47.00 L238.93,47.10 L239.15,47.14 L239.55,47.22 L239.84,47.28 L240.16,47.34 L240.54,47.42 L240.78,47.47 L241.24,47.57 L241.40,47.60 L241.93,47.72 L242.01,47.73 L242.63,47.87 L242.63,47.87 L243.24,48.01 L243.32,48.03 L243.86,48.15 L244.01,48.19 L244.47,48.30 L244.70,48.35 L245.09,48.45 L245.39,48.52 L245.70,48.60 L246.07,48.69 L246.32,48.76 L246.76,48.87 L246.93,48.92 L247.44,49.05 L247.55,49.08 L248.12,49.24 L248.16,49.25 L248.78,49.42 L248.80,49.43 L249.39,49.60 L249.48,49.62 L250.01,49.78 L250.16,49.82 L250.62,49.96 L250.83,50.02 L251.24,50.15 L251.51,50.23 L251.85,50.34 L252.18,50.45 L252.47,50.54 L252.85,50.66 L253.08,50.74 L253.52,50.88 L253.70,50.95 L254.18,51.11 L254.32,51.16 L254.85,51.34 L254.93,51.37 L255.51,51.58 L255.55,51.59 L256.16,51.82 L256.17,51.82 L256.78,52.05 L256.83,52.07 L257.39,52.28 L257.48,52.32 L258.01,52.53 L258.14,52.58 L258.62,52.77 L258.79,52.84 L259.24,53.02 L259.44,53.11 L259.85,53.28 L260.08,53.38 L260.47,53.54 L260.73,53.66 L261.08,53.81 L261.37,53.94 L261.70,54.09 L262.01,54.23 L262.31,54.37 L262.65,54.53 L262.93,54.66 L263.28,54.83 L263.54,54.95 L263.91,55.13 L264.16,55.25 L264.54,55.44 L264.77,55.56 L265.17,55.76 L265.39,55.87 L265.79,56.09 L266.00,56.20 L266.42,56.41 L266.62,56.52 L267.03,56.75 L267.23,56.86 L267.65,57.09 L267.85,57.20 L268.26,57.43 L268.47,57.55 L268.87,57.78 L269.08,57.90 L269.48,58.14 L269.70,58.27 L270.08,58.50 L270.31,58.64 L270.68,58.86 L270.93,59.01 L271.28,59.23 L271.54,59.40 L271.87,59.61 L272.16,59.79 L272.46,59.99 L272.77,60.20 L273.05,60.38 L273.39,60.61 L273.63,60.77 L274.00,61.03 L274.21,61.17 L274.62,61.45 L274.78,61.57 L275.23,61.89 L275.35,61.98 L275.85,62.34 L275.92,62.39 L276.46,62.79 L276.49,62.81 L277.05,63.23 L277.08,63.25 L277.60,63.66 L277.69,63.73 L278.15,64.09 L278.31,64.21 L278.70,64.52 L278.92,64.71 L279.24,64.97 L279.54,65.21 L279.78,65.41 L280.15,65.73 L280.32,65.86 L280.77,66.25 L280.85,66.32 L281.37,66.78 L281.39,66.79 L281.89,67.25 L282.00,67.34 L282.41,67.72 L282.62,67.91 L282.92,68.19 L283.23,68.48 L283.43,68.67 L283.85,69.07 L283.93,69.15 L284.42,69.64 L284.46,69.68 L284.92,70.13 L285.08,70.30 L285.40,70.63 L285.69,70.93 L285.89,71.13 L286.31,71.58 L286.36,71.64 L286.83,72.15 L286.92,72.25 L287.30,72.67 L287.54,72.93 L287.76,73.19 L288.15,73.64 L288.22,73.71 L288.67,74.24 L288.77,74.36 L289.11,74.77 L289.38,75.10 L289.55,75.31 L289.99,75.85 L290.00,75.86 L290.42,76.39 L290.61,76.64 L290.84,76.94 L291.23,77.44 L291.27,77.49 L291.68,78.05 L291.84,78.27 L292.09,78.61 L292.46,79.11 L292.50,79.17 L292.90,79.74 L293.07,79.98 L293.30,80.31 L293.69,80.88 L293.69,80.88 L294.08,81.46 L294.31,81.80 L294.46,82.04 L294.84,82.62 L294.92,82.74 L295.22,83.21 L295.54,83.71 L295.59,83.80 L295.95,84.39 L296.15,84.71 L296.32,84.99 L296.68,85.59 L296.77,85.74 L297.03,86.19 L297.38,86.80 L297.38,86.80 L297.73,87.41 L298.00,87.89 L298.07,88.02 L298.41,88.63 L298.61,89.01 L298.74,89.25 L299.07,89.87 L299.23,90.16 L299.40,90.49 L299.72,91.11 L299.84,91.35 L300.04,91.74 L300.36,92.37 L300.46,92.57 L300.67,93.00 L300.98,93.63 L301.07,93.83 L301.28,94.27 L301.58,94.91 L301.69,95.13 L301.88,95.55 L302.18,96.19 L302.30,96.46 L302.47,96.83 L302.76,97.48 L302.92,97.84 L303.04,98.13 L303.33,98.78 L303.53,99.25 L303.61,99.43 L303.88,100.08 L304.15,100.71 L304.16,100.73 L304.43,101.39 L304.70,102.05 L304.76,102.22 L304.96,102.71 L305.22,103.37 L305.38,103.76 L305.48,104.03 L305.74,104.69 L305.99,105.35 L306.00,105.36 L306.25,106.02 L306.50,106.69 L306.61,106.99 L306.74,107.36 L306.99,108.02 L307.22,108.68 L307.23,108.69 L307.47,109.36 L307.71,110.04 L307.84,110.41 L307.94,110.71 L308.18,111.38 L308.41,112.05 L308.46,112.19 L308.64,112.73 L308.87,113.40 L309.07,114.01 L309.09,114.07 L309.31,114.75 L309.54,115.42 L309.69,115.88 L309.76,116.10 L309.97,116.78 L310.19,117.45 L310.30,117.80 L310.41,118.13 L310.62,118.80 L310.83,119.48 L310.92,119.76 L311.04,120.16 L311.25,120.84 L311.45,121.51 L311.53,121.78 L311.65,122.19 L311.86,122.87 L312.06,123.55 L312.15,123.85 L312.26,124.23 L312.45,124.91 L312.65,125.59 L312.76,125.98 L312.84,126.27 L313.03,126.95 L313.22,127.63 L313.38,128.18 L313.41,128.31 L313.60,128.99 L313.79,129.67 L313.97,130.35 L313.99,130.43 L314.15,131.03 L314.33,131.71 L314.51,132.39 L314.61,132.76 L314.69,133.08 L314.86,133.76 L315.04,134.44 L315.21,135.13 L315.22,135.17 L315.38,135.81 L315.55,136.49 L315.72,137.18 L315.84,137.66 L315.89,137.86 L316.05,138.55 L316.21,139.23 L316.38,139.91 L316.45,140.24 L316.54,140.60 L316.70,141.29 L316.85,141.97 L317.01,142.66 L317.07,142.92 L317.16,143.34 L317.32,144.03 L317.47,144.72 L317.62,145.40 L317.68,145.70 L317.77,146.09 L317.92,146.78 L318.06,147.46 L318.21,148.15 L318.30,148.60 L318.35,148.84 L318.49,149.53 L318.63,150.22 L318.77,150.91 L318.91,151.59 L318.91,151.62 L319.05,152.28 L319.18,152.97 L319.31,153.66 L319.45,154.35 L319.53,154.78 L319.58,155.04 L319.71,155.73 L319.84,156.42 L319.96,157.11 L320.09,157.80 L320.14,158.10 L320.22,158.49 L320.34,159.19 L320.46,159.88 L320.58,160.57 L320.70,161.26 L320.76,161.59 L320.82,161.95 L320.94,162.65 L321.06,163.34 L321.17,164.03 L321.28,164.72 L321.38,165.28 L321.40,165.42 L321.51,166.11 L321.62,166.80 L321.73,167.50 L321.84,168.19 L321.94,168.88 L321.99,169.19 L322.05,169.58 L322.15,170.27 L322.26,170.97 L322.36,171.66 L322.46,172.36 L322.56,173.05 L322.61,173.34 L322.66,173.75 L322.76,174.44 L322.86,175.14 L322.96,175.83 L323.05,176.53 L323.15,177.23 L323.22,177.79 L323.24,177.92 L323.33,178.62 L323.42,179.31 L323.51,180.01 L323.60,180.71 L323.69,181.40 L323.78,182.10 L323.84,182.57 L323.87,182.80 L323.95,183.50 L324.04,184.19 L324.12,184.89 L324.20,185.59 L324.28,186.29 L324.37,186.99 L324.45,187.69 L324.45,187.73 L324.53,188.38 L324.60,189.08 L324.68,189.78 L324.76,190.48 L324.83,191.18 L324.91,191.88 L324.98,192.58 L325.06,193.28 L325.07,193.36 L325.13,193.98 L325.20,194.68 L325.27,195.38 L325.34,196.08 L325.41,196.78 L325.48,197.48 L325.55,198.18 L325.62,198.88 L325.68,199.53 L325.69,199.58 L325.75,200.28 L325.82,200.98 L325.88,201.68 L325.95,202.38 L326.01,203.08 L326.07,203.78 L326.13,204.49 L326.20,205.19 L326.26,205.89 L326.30,206.36 L326.32,206.59 L326.38,207.29 L326.43,208.00 L326.49,208.70 L326.55,209.40 L326.61,210.10 L326.66,210.80 L326.72,211.51 L326.78,212.21 L326.83,212.91 L326.89,213.61 L326.91,213.97 L326.94,214.32 L326.99,215.02 L327.04,215.72 L327.10,216.43 L327.15,217.13 L327.20,217.83 L327.25,218.54 L327.30,219.24 L327.35,219.94 L327.40,220.65 L327.45,221.35 L327.50,222.05 L327.53,222.49 L327.55,222.76 L327.59,223.46 L327.64,224.17 L327.69,224.87 L327.73,225.57 L327.78,226.28 L327.83,226.98 L327.87,227.69 L327.92,228.39 L327.96,229.09 L328.01,229.80 L328.05,230.50 L328.09,231.21 L328.14,231.91 L328.14,232.00 L328.18,232.62 L328.22,233.32 L328.27,234.03 L328.31,234.73 L328.35,235.44 L328.39,236.14 L328.43,236.85 L328.48,237.55 L328.52,238.26 L328.56,238.96 L328.60,239.67 L328.64,240.37 L328.68,241.08 L328.72,241.78 L328.76,242.44 L328.76,242.49 L328.80,243.19 L328.84,243.90 L328.88,244.60 L328.92,245.31 L328.96,246.01 L329.01,246.72 L329.05,247.42 L329.09,248.13 L329.13,248.83 L329.17,249.54 L329.21,250.24 L329.26,250.95 L329.30,251.65 L329.34,252.36 L329.37,252.83 L329.39,253.06 L329.43,253.77 L329.48,254.47 L329.52,255.17 L329.57,255.88 L329.61,256.58 L329.66,257.29 L329.71,257.99 L329.76,258.69 L329.81,259.40 L329.86,260.10 L329.91,260.80 L329.96,261.51 L329.99,261.93 L330.01,262.21 L330.06,262.91 L330.12,263.62 L330.17,264.32 L330.23,265.02 L330.28,265.72 L330.34,266.43 L330.40,267.13 L330.46,267.83 L330.52,268.53 L330.58,269.23 L330.60,269.51 L330.64,269.93 L330.71,270.63 L330.77,271.33 L330.84,272.04 L330.90,272.74 L330.97,273.44 L331.04,274.14 L331.11,274.83 L331.19,275.53 L331.22,275.84 L331.26,276.23 L331.34,276.93 L331.41,277.63 L331.49,278.33 L331.57,279.03 L331.65,279.72 L331.74,280.42 L331.82,281.12 L331.83,281.23 L331.91,281.82 L331.99,282.51 L332.08,283.21 L332.17,283.91 L332.27,284.60 L332.36,285.30 L332.45,285.93 L332.46,285.99 L332.56,286.69 L332.66,287.38 L332.76,288.07 L332.86,288.77 L332.97,289.46 L333.06,290.08 L333.08,290.15 L333.19,290.85 L333.30,291.54 L333.41,292.23 L333.53,292.92 L333.64,293.61 L333.68,293.82 L333.77,294.30 L333.89,294.99 L334.01,295.68 L334.14,296.37 L334.27,297.06 L334.30,297.21 L334.40,297.75 L334.53,298.44 L334.67,299.13 L334.81,299.82 L334.91,300.32 L334.95,300.50 L335.09,301.19 L335.24,301.87 L335.38,302.56 L335.53,303.21 L335.53,303.25 L335.69,303.93 L335.84,304.61 L336.00,305.30 L336.14,305.52 L336.76,306.22 L337.37,306.61 L337.99,306.89 L338.00,306.90 L338.60,307.18 L339.22,307.42 L339.83,307.58 L340.00,307.60 L340.45,307.65 L341.06,307.71 L341.68,307.76 L342.29,307.79 L342.91,307.80 L343.00,307.80 L343.52,307.80 L344.14,307.80 L344.75,307.80 L345.37,307.80 L345.98,307.80 L346.60,307.80 L347.21,307.80 L347.83,307.80 L348.45,307.80 L349.06,307.80 L349.68,307.80 L350.29,307.80 L350.91,307.80 L351.52,307.80 L352.14,307.80 L352.75,307.80 L353.37,307.80 L353.98,307.80 L354.60,307.80 L355.21,307.80 L355.83,307.80 L356.44,307.80 L357.06,307.80 L357.67,307.80 L358.29,307.80 L358.90,307.80 L359.52,307.80 L360.13,307.80 L360.75,307.80" fill="none" stroke="#e51e10" stroke-width="2.15" stroke-linejoin="round"/>
<path d="M56.55,36.98 L52.18,43.54 L60.92,43.54 Z" fill="none" stroke="#e51e10" stroke-width="2.35" stroke-linejoin="miter"/>
<path d="M88.55,37.02 L84.18,43.58 L92.92,43.58 Z" fill="none" stroke="#e51e10" stroke-width="2.35" stroke-linejoin="miter"/>
<path d="M120.55,37.13 L116.18,43.69 L124.92,43.69 Z" fill="none" stroke="#e51e10" stroke-width="2.35" stroke-linejoin="miter"/>
<path d="M152.55,37.48 L148.18,44.04 L156.92,44.04 Z" fill="none" stroke="#e51e10" stroke-width="2.35" stroke-linejoin="miter"/>
<path d="M184.55,37.85 L180.18,44.41 L188.92,44.41 Z" fill="none" stroke="#e51e10" stroke-width="2.35" stroke-linejoin="miter"/>
<path d="M216.55,39.85 L212.18,46.41 L220.92,46.41 Z" fill="none" stroke="#e51e10" stroke-width="2.35" stroke-linejoin="miter"/>
<path d="M248.55,44.98 L244.18,51.54 L252.92,51.54 Z" fill="none" stroke="#e51e10" stroke-width="2.35" stroke-linejoin="miter"/>
<path d="M280.55,61.69 L276.18,68.25 L284.92,68.25 Z" fill="none" stroke="#e51e10" stroke-width="2.35" stroke-linejoin="miter"/>
<path d="M312.55,120.87 L308.18,127.43 L316.92,127.43 Z" fill="none" stroke="#e51e10" stroke-width="2.35" stroke-linejoin="miter"/>
<path d="M344.55,303.43 L340.18,309.99 L348.92,309.99 Z" fill="none" stroke="#e51e10" stroke-width="2.35" stroke-linejoin="miter"/>
<path d="M107.5,233.3 L139,233.3" stroke="#9400d3" stroke-width="2.15"/>
<rect x="118.85" y="228.85" width="8.9" height="8.9" fill="#9400d3"/>
<text x="100.8" y="237.30" text-anchor="end" class="t">HIC</text>
<path d="M107.5,250.2 L139,250.2" stroke="#009e73" stroke-width="2.15"/>
<circle cx="123.30" cy="250.20" r="4.0" fill="none" stroke="#009e73" stroke-width="2.1"/>
<text x="100.8" y="254.20" text-anchor="end" class="t"><tspan class="s" font-size="12px">Ω</tspan> x 300</text>
<path d="M107.5,267.1 L139,267.1" stroke="#0072b2" stroke-width="2.15"/>
<circle cx="123.30" cy="267.10" r="4.3" fill="#0072b2"/>
<text x="100.8" y="271.10" text-anchor="end" class="t">T x 5</text>
<path d="M107.5,284.0 L139,284.0" stroke="#e51e10" stroke-width="2.15"/>
<path d="M123.30,279.63 L118.93,286.19 L127.67,286.19 Z" fill="none" stroke="#e51e10" stroke-width="2.35" stroke-linejoin="miter"/>
<text x="100.8" y="288.00" text-anchor="end" class="t"><tspan class="s" font-size="12px">μ</tspan> x 100</text>
<rect x="53.75" y="1.60" width="307.00" height="306.20" fill="none" stroke="#000" stroke-width="1.5"/>
<text x="46.6" y="311.80" text-anchor="end" class="t">0</text>
<text x="46.6" y="258.51" text-anchor="end" class="t">0.2</text>
<text x="46.6" y="205.22" text-anchor="end" class="t">0.4</text>
<text x="46.6" y="151.93" text-anchor="end" class="t">0.6</text>
<text x="46.6" y="98.64" text-anchor="end" class="t">0.8</text>
<text x="46.6" y="45.35" text-anchor="end" class="t">1</text>
<text x="85.91" y="323.4" class="t">10<tspan dy="-5.3" font-size="8.8px">2</tspan></text>
<text x="219.33" y="323.4" class="t">10<tspan dy="-5.3" font-size="8.8px">3</tspan></text>
<text x="352.75" y="323.4" class="t">10<tspan dy="-5.3" font-size="8.8px">4</tspan></text>
<text x="207.4" y="339.5" text-anchor="middle" class="t">M [MeV]</text>
<text transform="translate(12.2,155.3) rotate(-90)" text-anchor="middle" class="t">ΔP(M) / ΔP(0)</text>
<text transform="translate(63.7,21.0) scale(0.9417,1)" class="t" style="font-size:12px">(HIC: <tspan class="s" font-size="13.5px" dx="-1.3">μ</tspan><tspan dx="-0.2">=30 MeV; T=150 MeV; </tspan><tspan class="s" font-size="13.2px" dx="-0.5">Ω</tspan><tspan dx="-0.3">=6.6 MeV)</tspan></text>
<text transform="translate(339.9,21.0) scale(0.9417,1)" class="t" style="font-size:12px">(d)</text>
</svg>
</body></html>
